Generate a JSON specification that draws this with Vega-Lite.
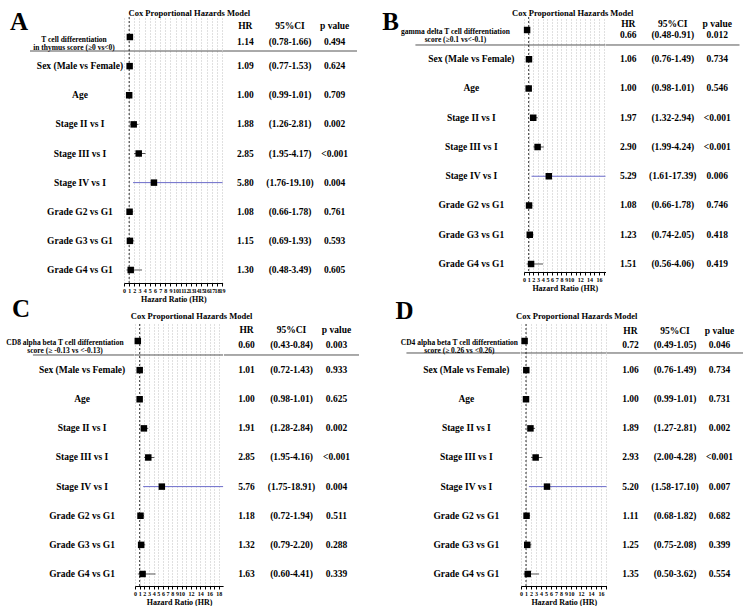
{
"$schema": "https://vega.github.io/schema/vega-lite/v6.json",
"background": "white",
"padding": {"left": 0, "top": 9, "right": 0, "bottom": 0},
"autosize": {"type": "pad"},
"datasets": {
"A": [
{"order": 1, "label": "T cell differentiation\nin thymus score (≥0 vs<0)", "hr": 1.14, "lo": 0.78, "hi": 1.66, "p": "0.494"},
{"order": 2, "label": "Sex (Male vs Female)", "hr": 1.09, "lo": 0.77, "hi": 1.53, "p": "0.624"},
{"order": 3, "label": "Age", "hr": 1.00, "lo": 0.99, "hi": 1.01, "p": "0.709"},
{"order": 4, "label": "Stage II vs I", "hr": 1.88, "lo": 1.26, "hi": 2.81, "p": "0.002"},
{"order": 5, "label": "Stage III vs I", "hr": 2.85, "lo": 1.95, "hi": 4.17, "p": "<0.001"},
{"order": 6, "label": "Stage IV vs I", "hr": 5.80, "lo": 1.76, "hi": 19.10, "p": "0.004"},
{"order": 7, "label": "Grade G2 vs G1", "hr": 1.08, "lo": 0.66, "hi": 1.78, "p": "0.761"},
{"order": 8, "label": "Grade G3 vs G1", "hr": 1.15, "lo": 0.69, "hi": 1.93, "p": "0.593"},
{"order": 9, "label": "Grade G4 vs G1", "hr": 1.30, "lo": 0.48, "hi": 3.49, "p": "0.605"}
],
"B": [
{"order": 1, "label": "gamma  delta T cell differentiation\nscore (≥0.1 vs<-0.1)", "hr": 0.66, "lo": 0.48, "hi": 0.91, "p": "0.012"},
{"order": 2, "label": "Sex (Male vs Female)", "hr": 1.06, "lo": 0.76, "hi": 1.49, "p": "0.734"},
{"order": 3, "label": "Age", "hr": 1.00, "lo": 0.98, "hi": 1.01, "p": "0.546"},
{"order": 4, "label": "Stage II vs I", "hr": 1.97, "lo": 1.32, "hi": 2.94, "p": "<0.001"},
{"order": 5, "label": "Stage III vs I", "hr": 2.90, "lo": 1.99, "hi": 4.24, "p": "<0.001"},
{"order": 6, "label": "Stage IV vs I", "hr": 5.29, "lo": 1.61, "hi": 17.39, "p": "0.006"},
{"order": 7, "label": "Grade G2 vs G1", "hr": 1.08, "lo": 0.66, "hi": 1.78, "p": "0.746"},
{"order": 8, "label": "Grade G3 vs G1", "hr": 1.23, "lo": 0.74, "hi": 2.05, "p": "0.418"},
{"order": 9, "label": "Grade G4 vs G1", "hr": 1.51, "lo": 0.56, "hi": 4.06, "p": "0.419"}
],
"C": [
{"order": 1, "label": "CD8 alpha beta T cell differentiation\nscore  (≥ -0.13 vs <-0.13)", "hr": 0.60, "lo": 0.43, "hi": 0.84, "p": "0.003"},
{"order": 2, "label": "Sex (Male vs Female)", "hr": 1.01, "lo": 0.72, "hi": 1.43, "p": "0.933"},
{"order": 3, "label": "Age", "hr": 1.00, "lo": 0.98, "hi": 1.01, "p": "0.625"},
{"order": 4, "label": "Stage II vs I", "hr": 1.91, "lo": 1.28, "hi": 2.84, "p": "0.002"},
{"order": 5, "label": "Stage III vs I", "hr": 2.85, "lo": 1.95, "hi": 4.16, "p": "<0.001"},
{"order": 6, "label": "Stage IV vs I", "hr": 5.76, "lo": 1.75, "hi": 18.91, "p": "0.004"},
{"order": 7, "label": "Grade G2 vs G1", "hr": 1.18, "lo": 0.72, "hi": 1.94, "p": "0.511"},
{"order": 8, "label": "Grade G3 vs G1", "hr": 1.32, "lo": 0.79, "hi": 2.20, "p": "0.288"},
{"order": 9, "label": "Grade G4 vs G1", "hr": 1.63, "lo": 0.60, "hi": 4.41, "p": "0.339"}
],
"D": [
{"order": 1, "label": "CD4 alpha beta T cell differentiation\nscore (≥ 0.26 vs <0.26)", "hr": 0.72, "lo": 0.49, "hi": 1.05, "p": "0.046"},
{"order": 2, "label": "Sex (Male vs Female)", "hr": 1.06, "lo": 0.76, "hi": 1.49, "p": "0.734"},
{"order": 3, "label": "Age", "hr": 1.00, "lo": 0.99, "hi": 1.01, "p": "0.731"},
{"order": 4, "label": "Stage II vs I", "hr": 1.89, "lo": 1.27, "hi": 2.81, "p": "0.002"},
{"order": 5, "label": "Stage III vs I", "hr": 2.93, "lo": 2.00, "hi": 4.28, "p": "<0.001"},
{"order": 6, "label": "Stage IV vs I", "hr": 5.20, "lo": 1.58, "hi": 17.10, "p": "0.007"},
{"order": 7, "label": "Grade G2 vs G1", "hr": 1.11, "lo": 0.68, "hi": 1.82, "p": "0.682"},
{"order": 8, "label": "Grade G3 vs G1", "hr": 1.25, "lo": 0.75, "hi": 2.08, "p": "0.399"},
{"order": 9, "label": "Grade G4 vs G1", "hr": 1.35, "lo": 0.50, "hi": 3.62, "p": "0.554"}
]
},
"spacing": -7,
"vconcat": [
{"hconcat": [
{
"width": 124, "height": 266, "data": {"name": "A"},
"layer": [
{"transform": [{"filter": "datum.order == 1"}], "mark": {"type": "text", "text": "A", "align": "left", "baseline": "alphabetic", "fontSize": 25, "dy": -7},
 "encoding": {"x": {"datum": 0.081, "type": "quantitative", "scale": {"domain": [0, 1]}, "axis": null}, "y": {"datum": 1, "type": "ordinal", "scale": {"type": "point", "domain": [1,2,3,4,5,6,7,8,9], "padding": 0.567, "align": 0.606}, "axis": null}}},
{"transform": [{"filter": "datum.order == 1"}], "mark": {"type": "rule", "color": "#555555", "strokeWidth": 1, "yOffset": 14},
 "encoding": {"x": {"datum": 0.242, "type": "quantitative", "scale": {"domain": [0, 1]}, "axis": null}, "x2": {"datum": 1}, "y": {"datum": 1, "type": "ordinal", "scale": {"type": "point", "domain": [1,2,3,4,5,6,7,8,9], "padding": 0.567, "align": 0.606}, "axis": null}}},
{"transform": [{"filter": "datum.order > 1"}], "mark": {"type": "text", "fontSize": 9.5, "baseline": "middle"},
 "encoding": {"x": {"datum": 0.645, "type": "quantitative", "scale": {"domain": [0, 1]}, "axis": null}, "y": {"field": "order", "type": "ordinal", "scale": {"type": "point", "domain": [1,2,3,4,5,6,7,8,9], "padding": 0.567, "align": 0.606}, "axis": null}, "text": {"field": "label"}}},
{"transform": [{"filter": "datum.order == 1"}], "mark": {"type": "text", "fontSize": 7.5, "baseline": "middle", "lineBreak": "\n", "lineHeight": 8, "dy": 2.5},
 "encoding": {"x": {"datum": 0.597, "type": "quantitative", "scale": {"domain": [0, 1]}, "axis": null}, "y": {"field": "order", "type": "ordinal", "scale": {"type": "point", "domain": [1,2,3,4,5,6,7,8,9], "padding": 0.567, "align": 0.606}, "axis": null}, "text": {"field": "label"}}}
]
},
{
"width": 98.6, "height": 266, "data": {"name": "A"},
"title": {"text": "Cox Proportional Hazards Model", "frame": "group", "anchor": "middle", "dx": 16, "offset": -1, "fontSize": 8.5, "fontWeight": "bold", "font": "Liberation Serif", "color": "black"},
"layer": [
{"transform": [{"filter": "datum.order == 1"}], "mark": {"type": "rule", "color": "#555555", "strokeWidth": 1, "yOffset": 14},
 "encoding": {"y": {"datum": 1, "type": "ordinal", "scale": {"type": "point", "domain": [1,2,3,4,5,6,7,8,9], "padding": 0.567, "align": 0.606}, "axis": null}}},
{"mark": {"type": "rule", "strokeWidth": 1},
 "encoding": {
  "x": {"field": "lo", "type": "quantitative", "scale": {"domain": [0, 19.1], "nice": false, "zero": false}, "axis": {"values": [0,1,2,3,4,5,6,7,8,9,10,11,12,13,14,15,16,17,18,19], "title": "Hazard Ratio (HR)"}},
  "x2": {"field": "hi"},
  "y": {"field": "order", "type": "ordinal", "scale": {"type": "point", "domain": [1,2,3,4,5,6,7,8,9], "padding": 0.567, "align": 0.606}, "axis": null},
  "color": {"condition": {"test": "datum.hi > 15", "value": "#6b6bc9"}, "value": "#555555"}}},
{"transform": [{"filter": "datum.order == 1"}], "mark": {"type": "rule", "color": "black", "strokeWidth": 0.8, "strokeDash": [2, 2]},
 "encoding": {"x": {"datum": 1, "type": "quantitative", "scale": {"domain": [0, 19.1], "nice": false, "zero": false}, "axis": {"values": [0,1,2,3,4,5,6,7,8,9,10,11,12,13,14,15,16,17,18,19], "title": "Hazard Ratio (HR)"}}}},
{"mark": {"type": "point", "shape": "square", "filled": true, "color": "black", "opacity": 1, "size": 42},
 "encoding": {"x": {"field": "hr", "type": "quantitative", "scale": {"domain": [0, 19.1], "nice": false, "zero": false}, "axis": {"values": [0,1,2,3,4,5,6,7,8,9,10,11,12,13,14,15,16,17,18,19], "title": "Hazard Ratio (HR)"}}, "y": {"field": "order", "type": "ordinal", "scale": {"type": "point", "domain": [1,2,3,4,5,6,7,8,9], "padding": 0.567, "align": 0.606}, "axis": null}}}
]
},
{
"width": 134, "height": 266, "data": {"name": "A"},
"transform": [
 {"calculate": "format(datum.hr, '.2f')", "as": "hrt"},
 {"calculate": "'(' + format(datum.lo, '.2f') + '-' + format(datum.hi, '.2f') + ')'", "as": "cit"},
 {"fold": ["hrt", "cit", "p"], "as": ["col", "val"]},
 {"calculate": "datum.col == 'hrt' ? 'HR' : datum.col == 'cit' ? '95%CI' : 'p value'", "as": "hdr"}
],
"layer": [
{"transform": [{"filter": "datum.order > 1"}], "mark": {"type": "text", "fontSize": 9.5, "baseline": "middle"},
 "encoding": {"x": {"field": "col", "type": "nominal", "scale": {"type": "point", "domain": ["hrt", "cit", "p"], "padding": 0.5}, "axis": null}, "y": {"field": "order", "type": "ordinal", "scale": {"type": "point", "domain": [1,2,3,4,5,6,7,8,9], "padding": 0.567, "align": 0.606}, "axis": null}, "text": {"field": "val"}}},
{"transform": [{"filter": "datum.order == 1"}], "mark": {"type": "text", "fontSize": 9.5, "baseline": "middle", "dy": 5},
 "encoding": {"x": {"field": "col", "type": "nominal", "scale": {"type": "point", "domain": ["hrt", "cit", "p"], "padding": 0.5}, "axis": null}, "y": {"field": "order", "type": "ordinal", "scale": {"type": "point", "domain": [1,2,3,4,5,6,7,8,9], "padding": 0.567, "align": 0.606}, "axis": null}, "text": {"field": "val"}}},
{"transform": [{"filter": "datum.order == 1"}], "mark": {"type": "text", "fontSize": 9.5, "baseline": "middle", "dy": -11},
 "encoding": {"x": {"field": "col", "type": "nominal", "scale": {"type": "point", "domain": ["hrt", "cit", "p"], "padding": 0.5}, "axis": null}, "y": {"field": "order", "type": "ordinal", "scale": {"type": "point", "domain": [1,2,3,4,5,6,7,8,9], "padding": 0.567, "align": 0.606}, "axis": null}, "text": {"field": "hdr"}}},
{"transform": [{"filter": "datum.order == 1 && datum.col == 'hrt'"}], "mark": {"type": "rule", "color": "#555555", "strokeWidth": 1, "yOffset": 14},
 "encoding": {"y": {"field": "order", "type": "ordinal", "scale": {"type": "point", "domain": [1,2,3,4,5,6,7,8,9], "padding": 0.567, "align": 0.606}, "axis": null}}}
]
},
{
"width": 166.9, "height": 255, "data": {"name": "B"},
"layer": [
{"transform": [{"filter": "datum.order == 1"}], "mark": {"type": "text", "text": "B", "align": "left", "baseline": "alphabetic", "fontSize": 25, "dy": 0},
 "encoding": {"x": {"datum": 0.152, "type": "quantitative", "scale": {"domain": [0, 1]}, "axis": null}, "y": {"datum": 1, "type": "ordinal", "scale": {"type": "point", "domain": [1,2,3,4,5,6,7,8,9], "padding": 0.359, "align": 0.619}, "axis": null}}},
{"transform": [{"filter": "datum.order == 1"}], "mark": {"type": "rule", "color": "#555555", "strokeWidth": 1, "yOffset": 15},
 "encoding": {"x": {"datum": 0.35, "type": "quantitative", "scale": {"domain": [0, 1]}, "axis": null}, "x2": {"datum": 1}, "y": {"datum": 1, "type": "ordinal", "scale": {"type": "point", "domain": [1,2,3,4,5,6,7,8,9], "padding": 0.359, "align": 0.619}, "axis": null}}},
{"transform": [{"filter": "datum.order > 1"}], "mark": {"type": "text", "fontSize": 9.5, "baseline": "middle"},
 "encoding": {"x": {"datum": 0.685, "type": "quantitative", "scale": {"domain": [0, 1]}, "axis": null}, "y": {"field": "order", "type": "ordinal", "scale": {"type": "point", "domain": [1,2,3,4,5,6,7,8,9], "padding": 0.359, "align": 0.619}, "axis": null}, "text": {"field": "label"}}},
{"transform": [{"filter": "datum.order == 1"}], "mark": {"type": "text", "fontSize": 7.5, "baseline": "middle", "lineBreak": "\n", "lineHeight": 8, "dy": 2.5},
 "encoding": {"x": {"datum": 0.59, "type": "quantitative", "scale": {"domain": [0, 1]}, "axis": null}, "y": {"field": "order", "type": "ordinal", "scale": {"type": "point", "domain": [1,2,3,4,5,6,7,8,9], "padding": 0.359, "align": 0.619}, "axis": null}, "text": {"field": "label"}}}
]
},
{
"width": 81.5, "height": 255, "data": {"name": "B"},
"title": {"text": "Cox Proportional Hazards Model", "frame": "group", "anchor": "middle", "dx": 8, "offset": -1, "fontSize": 8.5, "fontWeight": "bold", "font": "Liberation Serif", "color": "black"},
"layer": [
{"transform": [{"filter": "datum.order == 1"}], "mark": {"type": "rule", "color": "#555555", "strokeWidth": 1, "yOffset": 15},
 "encoding": {"y": {"datum": 1, "type": "ordinal", "scale": {"type": "point", "domain": [1,2,3,4,5,6,7,8,9], "padding": 0.359, "align": 0.619}, "axis": null}}},
{"mark": {"type": "rule", "strokeWidth": 1},
 "encoding": {
  "x": {"field": "lo", "type": "quantitative", "scale": {"domain": [0, 17.39], "nice": false, "zero": false}, "axis": {"values": [0,1,2,3,4,5,6,7,8,9,10,11,12,13,14,15,16,17], "labelExpr": "datum.value > 10 && datum.value % 2 == 1 ? '' : datum.label", "title": "Hazard Ratio (HR)"}},
  "x2": {"field": "hi"},
  "y": {"field": "order", "type": "ordinal", "scale": {"type": "point", "domain": [1,2,3,4,5,6,7,8,9], "padding": 0.359, "align": 0.619}, "axis": null},
  "color": {"condition": {"test": "datum.hi > 15", "value": "#6b6bc9"}, "value": "#555555"}}},
{"transform": [{"filter": "datum.order == 1"}], "mark": {"type": "rule", "color": "black", "strokeWidth": 0.8, "strokeDash": [2, 2]},
 "encoding": {"x": {"datum": 1, "type": "quantitative", "scale": {"domain": [0, 17.39], "nice": false, "zero": false}, "axis": {"values": [0,1,2,3,4,5,6,7,8,9,10,11,12,13,14,15,16,17], "labelExpr": "datum.value > 10 && datum.value % 2 == 1 ? '' : datum.label", "title": "Hazard Ratio (HR)"}}}},
{"mark": {"type": "point", "shape": "square", "filled": true, "color": "black", "opacity": 1, "size": 42},
 "encoding": {"x": {"field": "hr", "type": "quantitative", "scale": {"domain": [0, 17.39], "nice": false, "zero": false}, "axis": {"values": [0,1,2,3,4,5,6,7,8,9,10,11,12,13,14,15,16,17], "labelExpr": "datum.value > 10 && datum.value % 2 == 1 ? '' : datum.label", "title": "Hazard Ratio (HR)"}}, "y": {"field": "order", "type": "ordinal", "scale": {"type": "point", "domain": [1,2,3,4,5,6,7,8,9], "padding": 0.359, "align": 0.619}, "axis": null}}}
]
},
{
"width": 133.5, "height": 255, "data": {"name": "B"},
"transform": [
 {"calculate": "format(datum.hr, '.2f')", "as": "hrt"},
 {"calculate": "'(' + format(datum.lo, '.2f') + '-' + format(datum.hi, '.2f') + ')'", "as": "cit"},
 {"fold": ["hrt", "cit", "p"], "as": ["col", "val"]},
 {"calculate": "datum.col == 'hrt' ? 'HR' : datum.col == 'cit' ? '95%CI' : 'p value'", "as": "hdr"}
],
"layer": [
{"transform": [{"filter": "datum.order > 1"}], "mark": {"type": "text", "fontSize": 9.5, "baseline": "middle"},
 "encoding": {"x": {"field": "col", "type": "nominal", "scale": {"type": "point", "domain": ["hrt", "cit", "p"], "padding": 0.5}, "axis": null}, "y": {"field": "order", "type": "ordinal", "scale": {"type": "point", "domain": [1,2,3,4,5,6,7,8,9], "padding": 0.359, "align": 0.619}, "axis": null}, "text": {"field": "val"}}},
{"transform": [{"filter": "datum.order == 1"}], "mark": {"type": "text", "fontSize": 9.5, "baseline": "middle", "dy": 5},
 "encoding": {"x": {"field": "col", "type": "nominal", "scale": {"type": "point", "domain": ["hrt", "cit", "p"], "padding": 0.5}, "axis": null}, "y": {"field": "order", "type": "ordinal", "scale": {"type": "point", "domain": [1,2,3,4,5,6,7,8,9], "padding": 0.359, "align": 0.619}, "axis": null}, "text": {"field": "val"}}},
{"transform": [{"filter": "datum.order == 1"}], "mark": {"type": "text", "fontSize": 9.5, "baseline": "middle", "dy": -6},
 "encoding": {"x": {"field": "col", "type": "nominal", "scale": {"type": "point", "domain": ["hrt", "cit", "p"], "padding": 0.5}, "axis": null}, "y": {"field": "order", "type": "ordinal", "scale": {"type": "point", "domain": [1,2,3,4,5,6,7,8,9], "padding": 0.359, "align": 0.619}, "axis": null}, "text": {"field": "hdr"}}},
{"transform": [{"filter": "datum.order == 1 && datum.col == 'hrt'"}], "mark": {"type": "rule", "color": "#555555", "strokeWidth": 1, "yOffset": 15},
 "encoding": {"y": {"field": "order", "type": "ordinal", "scale": {"type": "point", "domain": [1,2,3,4,5,6,7,8,9], "padding": 0.359, "align": 0.619}, "axis": null}}}
]
}
], "spacing": 0, "bounds": "flush"},
{"hconcat": [
{
"width": 134.5, "height": 262, "data": {"name": "C"},
"layer": [
{"transform": [{"filter": "datum.order == 1"}], "mark": {"type": "text", "text": "C", "align": "left", "baseline": "alphabetic", "fontSize": 25, "dy": -24},
 "encoding": {"x": {"datum": 0.089, "type": "quantitative", "scale": {"domain": [0, 1]}, "axis": null}, "y": {"datum": 1, "type": "ordinal", "scale": {"type": "point", "domain": [1,2,3,4,5,6,7,8,9], "padding": 0.498, "align": 0.586}, "axis": null}}},
{"transform": [{"filter": "datum.order == 1"}], "mark": {"type": "rule", "color": "#555555", "strokeWidth": 1, "yOffset": 14},
 "encoding": {"x": {"datum": 0.245, "type": "quantitative", "scale": {"domain": [0, 1]}, "axis": null}, "x2": {"datum": 1}, "y": {"datum": 1, "type": "ordinal", "scale": {"type": "point", "domain": [1,2,3,4,5,6,7,8,9], "padding": 0.498, "align": 0.586}, "axis": null}}},
{"transform": [{"filter": "datum.order > 1"}], "mark": {"type": "text", "fontSize": 9.5, "baseline": "middle"},
 "encoding": {"x": {"datum": 0.61, "type": "quantitative", "scale": {"domain": [0, 1]}, "axis": null}, "y": {"field": "order", "type": "ordinal", "scale": {"type": "point", "domain": [1,2,3,4,5,6,7,8,9], "padding": 0.498, "align": 0.586}, "axis": null}, "text": {"field": "label"}}},
{"transform": [{"filter": "datum.order == 1"}], "mark": {"type": "text", "fontSize": 7.5, "baseline": "middle", "lineBreak": "\n", "lineHeight": 8, "dy": 2},
 "encoding": {"x": {"datum": 0.483, "type": "quantitative", "scale": {"domain": [0, 1]}, "axis": null}, "y": {"field": "order", "type": "ordinal", "scale": {"type": "point", "domain": [1,2,3,4,5,6,7,8,9], "padding": 0.498, "align": 0.586}, "axis": null}, "text": {"field": "label"}}}
]
},
{
"width": 88.1, "height": 262, "data": {"name": "C"},
"title": {"text": "Cox Proportional Hazards Model", "frame": "group", "anchor": "middle", "dx": 12.5, "offset": 3, "fontSize": 8.5, "fontWeight": "bold", "font": "Liberation Serif", "color": "black"},
"layer": [
{"transform": [{"filter": "datum.order == 1"}], "mark": {"type": "rule", "color": "#555555", "strokeWidth": 1, "yOffset": 14},
 "encoding": {"y": {"datum": 1, "type": "ordinal", "scale": {"type": "point", "domain": [1,2,3,4,5,6,7,8,9], "padding": 0.498, "align": 0.586}, "axis": null}}},
{"mark": {"type": "rule", "strokeWidth": 1},
 "encoding": {
  "x": {"field": "lo", "type": "quantitative", "scale": {"domain": [0, 18.91], "nice": false, "zero": false}, "axis": {"values": [0,1,2,3,4,5,6,7,8,9,10,11,12,13,14,15,16,17,18], "labelExpr": "datum.value > 10 && datum.value % 2 == 1 ? '' : datum.label", "title": "Hazard Ratio (HR)"}},
  "x2": {"field": "hi"},
  "y": {"field": "order", "type": "ordinal", "scale": {"type": "point", "domain": [1,2,3,4,5,6,7,8,9], "padding": 0.498, "align": 0.586}, "axis": null},
  "color": {"condition": {"test": "datum.hi > 15", "value": "#6b6bc9"}, "value": "#555555"}}},
{"transform": [{"filter": "datum.order == 1"}], "mark": {"type": "rule", "color": "black", "strokeWidth": 0.8, "strokeDash": [2, 2]},
 "encoding": {"x": {"datum": 1, "type": "quantitative", "scale": {"domain": [0, 18.91], "nice": false, "zero": false}, "axis": {"values": [0,1,2,3,4,5,6,7,8,9,10,11,12,13,14,15,16,17,18], "labelExpr": "datum.value > 10 && datum.value % 2 == 1 ? '' : datum.label", "title": "Hazard Ratio (HR)"}}}},
{"mark": {"type": "point", "shape": "square", "filled": true, "color": "black", "opacity": 1, "size": 42},
 "encoding": {"x": {"field": "hr", "type": "quantitative", "scale": {"domain": [0, 18.91], "nice": false, "zero": false}, "axis": {"values": [0,1,2,3,4,5,6,7,8,9,10,11,12,13,14,15,16,17,18], "labelExpr": "datum.value > 10 && datum.value % 2 == 1 ? '' : datum.label", "title": "Hazard Ratio (HR)"}}, "y": {"field": "order", "type": "ordinal", "scale": {"type": "point", "domain": [1,2,3,4,5,6,7,8,9], "padding": 0.498, "align": 0.586}, "axis": null}}}
]
},
{
"width": 135, "height": 262, "data": {"name": "C"},
"transform": [
 {"calculate": "format(datum.hr, '.2f')", "as": "hrt"},
 {"calculate": "'(' + format(datum.lo, '.2f') + '-' + format(datum.hi, '.2f') + ')'", "as": "cit"},
 {"fold": ["hrt", "cit", "p"], "as": ["col", "val"]},
 {"calculate": "datum.col == 'hrt' ? 'HR' : datum.col == 'cit' ? '95%CI' : 'p value'", "as": "hdr"}
],
"layer": [
{"transform": [{"filter": "datum.order > 1"}], "mark": {"type": "text", "fontSize": 9.5, "baseline": "middle"},
 "encoding": {"x": {"field": "col", "type": "nominal", "scale": {"type": "point", "domain": ["hrt", "cit", "p"], "padding": 0.5}, "axis": null}, "y": {"field": "order", "type": "ordinal", "scale": {"type": "point", "domain": [1,2,3,4,5,6,7,8,9], "padding": 0.498, "align": 0.586}, "axis": null}, "text": {"field": "val"}}},
{"transform": [{"filter": "datum.order == 1"}], "mark": {"type": "text", "fontSize": 9.5, "baseline": "middle", "dy": 4},
 "encoding": {"x": {"field": "col", "type": "nominal", "scale": {"type": "point", "domain": ["hrt", "cit", "p"], "padding": 0.5}, "axis": null}, "y": {"field": "order", "type": "ordinal", "scale": {"type": "point", "domain": [1,2,3,4,5,6,7,8,9], "padding": 0.498, "align": 0.586}, "axis": null}, "text": {"field": "val"}}},
{"transform": [{"filter": "datum.order == 1"}], "mark": {"type": "text", "fontSize": 9.5, "baseline": "middle", "dy": -11},
 "encoding": {"x": {"field": "col", "type": "nominal", "scale": {"type": "point", "domain": ["hrt", "cit", "p"], "padding": 0.5}, "axis": null}, "y": {"field": "order", "type": "ordinal", "scale": {"type": "point", "domain": [1,2,3,4,5,6,7,8,9], "padding": 0.498, "align": 0.586}, "axis": null}, "text": {"field": "hdr"}}},
{"transform": [{"filter": "datum.order == 1 && datum.col == 'hrt'"}], "mark": {"type": "rule", "color": "#555555", "strokeWidth": 1, "yOffset": 14},
 "encoding": {"y": {"field": "order", "type": "ordinal", "scale": {"type": "point", "domain": [1,2,3,4,5,6,7,8,9], "padding": 0.498, "align": 0.586}, "axis": null}}}
]
},
{
"width": 161.4, "height": 262, "data": {"name": "D"},
"layer": [
{"transform": [{"filter": "datum.order == 1"}], "mark": {"type": "text", "text": "D", "align": "left", "baseline": "alphabetic", "fontSize": 25, "dy": -22},
 "encoding": {"x": {"datum": 0.226, "type": "quantitative", "scale": {"domain": [0, 1]}, "axis": null}, "y": {"datum": 1, "type": "ordinal", "scale": {"type": "point", "domain": [1,2,3,4,5,6,7,8,9], "padding": 0.498, "align": 0.586}, "axis": null}}},
{"transform": [{"filter": "datum.order == 1"}], "mark": {"type": "rule", "color": "#555555", "strokeWidth": 1, "yOffset": 12},
 "encoding": {"x": {"datum": 0.294, "type": "quantitative", "scale": {"domain": [0, 1]}, "axis": null}, "x2": {"datum": 1}, "y": {"datum": 1, "type": "ordinal", "scale": {"type": "point", "domain": [1,2,3,4,5,6,7,8,9], "padding": 0.498, "align": 0.586}, "axis": null}}},
{"transform": [{"filter": "datum.order > 1"}], "mark": {"type": "text", "fontSize": 9.5, "baseline": "middle"},
 "encoding": {"x": {"datum": 0.665, "type": "quantitative", "scale": {"domain": [0, 1]}, "axis": null}, "y": {"field": "order", "type": "ordinal", "scale": {"type": "point", "domain": [1,2,3,4,5,6,7,8,9], "padding": 0.498, "align": 0.586}, "axis": null}, "text": {"field": "label"}}},
{"transform": [{"filter": "datum.order == 1"}], "mark": {"type": "text", "fontSize": 7.5, "baseline": "middle", "lineBreak": "\n", "lineHeight": 8, "dy": 2},
 "encoding": {"x": {"datum": 0.622, "type": "quantitative", "scale": {"domain": [0, 1]}, "axis": null}, "y": {"field": "order", "type": "ordinal", "scale": {"type": "point", "domain": [1,2,3,4,5,6,7,8,9], "padding": 0.498, "align": 0.586}, "axis": null}, "text": {"field": "label"}}}
]
},
{
"width": 85.5, "height": 262, "data": {"name": "D"},
"title": {"text": "Cox Proportional Hazards Model", "frame": "group", "anchor": "middle", "dx": 13, "offset": 3, "fontSize": 8.5, "fontWeight": "bold", "font": "Liberation Serif", "color": "black"},
"layer": [
{"transform": [{"filter": "datum.order == 1"}], "mark": {"type": "rule", "color": "#555555", "strokeWidth": 1, "yOffset": 12},
 "encoding": {"y": {"datum": 1, "type": "ordinal", "scale": {"type": "point", "domain": [1,2,3,4,5,6,7,8,9], "padding": 0.498, "align": 0.586}, "axis": null}}},
{"mark": {"type": "rule", "strokeWidth": 1},
 "encoding": {
  "x": {"field": "lo", "type": "quantitative", "scale": {"domain": [0, 17.1], "nice": false, "zero": false}, "axis": {"values": [0,1,2,3,4,5,6,7,8,9,10,11,12,13,14,15,16,17], "labelExpr": "datum.value > 10 && datum.value % 2 == 1 ? '' : datum.label", "title": "Hazard Ratio (HR)"}},
  "x2": {"field": "hi"},
  "y": {"field": "order", "type": "ordinal", "scale": {"type": "point", "domain": [1,2,3,4,5,6,7,8,9], "padding": 0.498, "align": 0.586}, "axis": null},
  "color": {"condition": {"test": "datum.hi > 15", "value": "#6b6bc9"}, "value": "#555555"}}},
{"transform": [{"filter": "datum.order == 1"}], "mark": {"type": "rule", "color": "black", "strokeWidth": 0.8, "strokeDash": [2, 2]},
 "encoding": {"x": {"datum": 1, "type": "quantitative", "scale": {"domain": [0, 17.1], "nice": false, "zero": false}, "axis": {"values": [0,1,2,3,4,5,6,7,8,9,10,11,12,13,14,15,16,17], "labelExpr": "datum.value > 10 && datum.value % 2 == 1 ? '' : datum.label", "title": "Hazard Ratio (HR)"}}}},
{"mark": {"type": "point", "shape": "square", "filled": true, "color": "black", "opacity": 1, "size": 42},
 "encoding": {"x": {"field": "hr", "type": "quantitative", "scale": {"domain": [0, 17.1], "nice": false, "zero": false}, "axis": {"values": [0,1,2,3,4,5,6,7,8,9,10,11,12,13,14,15,16,17], "labelExpr": "datum.value > 10 && datum.value % 2 == 1 ? '' : datum.label", "title": "Hazard Ratio (HR)"}}, "y": {"field": "order", "type": "ordinal", "scale": {"type": "point", "domain": [1,2,3,4,5,6,7,8,9], "padding": 0.498, "align": 0.586}, "axis": null}}}
]
},
{
"width": 136, "height": 262, "data": {"name": "D"},
"transform": [
 {"calculate": "format(datum.hr, '.2f')", "as": "hrt"},
 {"calculate": "'(' + format(datum.lo, '.2f') + '-' + format(datum.hi, '.2f') + ')'", "as": "cit"},
 {"fold": ["hrt", "cit", "p"], "as": ["col", "val"]},
 {"calculate": "datum.col == 'hrt' ? 'HR' : datum.col == 'cit' ? '95%CI' : 'p value'", "as": "hdr"}
],
"layer": [
{"transform": [{"filter": "datum.order > 1"}], "mark": {"type": "text", "fontSize": 9.5, "baseline": "middle"},
 "encoding": {"x": {"field": "col", "type": "nominal", "scale": {"type": "point", "domain": ["hrt", "cit", "p"], "padding": 0.528}, "axis": null}, "y": {"field": "order", "type": "ordinal", "scale": {"type": "point", "domain": [1,2,3,4,5,6,7,8,9], "padding": 0.498, "align": 0.586}, "axis": null}, "text": {"field": "val"}}},
{"transform": [{"filter": "datum.order == 1"}], "mark": {"type": "text", "fontSize": 9.5, "baseline": "middle", "dy": 4},
 "encoding": {"x": {"field": "col", "type": "nominal", "scale": {"type": "point", "domain": ["hrt", "cit", "p"], "padding": 0.528}, "axis": null}, "y": {"field": "order", "type": "ordinal", "scale": {"type": "point", "domain": [1,2,3,4,5,6,7,8,9], "padding": 0.498, "align": 0.586}, "axis": null}, "text": {"field": "val"}}},
{"transform": [{"filter": "datum.order == 1"}], "mark": {"type": "text", "fontSize": 9.5, "baseline": "middle", "dy": -10},
 "encoding": {"x": {"field": "col", "type": "nominal", "scale": {"type": "point", "domain": ["hrt", "cit", "p"], "padding": 0.528}, "axis": null}, "y": {"field": "order", "type": "ordinal", "scale": {"type": "point", "domain": [1,2,3,4,5,6,7,8,9], "padding": 0.498, "align": 0.586}, "axis": null}, "text": {"field": "hdr"}}},
{"transform": [{"filter": "datum.order == 1 && datum.col == 'hrt'"}], "mark": {"type": "rule", "color": "#555555", "strokeWidth": 1, "yOffset": 12},
 "encoding": {"y": {"field": "order", "type": "ordinal", "scale": {"type": "point", "domain": [1,2,3,4,5,6,7,8,9], "padding": 0.498, "align": 0.586}, "axis": null}}}
]
}
], "spacing": 0, "bounds": "flush"}
],
"config": {
 "view": {"stroke": null},
 "font": "Liberation Serif",
 "text": {"font": "Liberation Serif", "fontWeight": "bold", "color": "black"},
 "axis": {"labelFont": "Liberation Serif", "titleFont": "Liberation Serif"},
 "axisX": {"grid": true, "gridDash": [1, 2], "gridColor": "#b0b0b0", "gridWidth": 0.8, "gridOpacity": 1, "domainColor": "black", "tickColor": "black", "ticks": true, "tickSize": 3, "labelFontSize": 6, "labelFontWeight": "bold", "labelPadding": 1, "labelOverlap": false, "labelFlush": false, "labelBound": false, "labelColor": "black", "titleFontSize": 8, "titleFontWeight": "bold", "titlePadding": 2, "titleColor": "black"}
}
}
